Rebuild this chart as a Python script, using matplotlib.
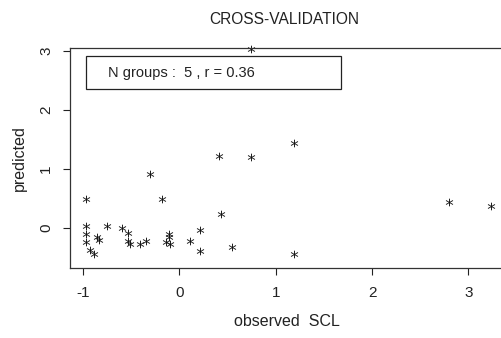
import matplotlib
matplotlib.use("Agg")
import matplotlib.pyplot as plt
from matplotlib.patches import Rectangle

plt.rcParams['font.family'] = ['Liberation Sans', 'DejaVu Sans']

# observed vs predicted
observed = [0.74, -0.97, -0.97, -0.97, -0.97, -0.93, -0.89, -0.85, -0.83, -0.75,
            -0.60, -0.53, -0.53, -0.51, -0.41, -0.35, -0.30, -0.18, -0.11, -0.11,
            -0.14, -0.10, 0.11, 0.21, 0.21, 0.41, 0.43, 0.55, 0.74, 1.19,
            1.19, 2.80, 3.23]
predicted = [3.03, 0.48, 0.03, -0.11, -0.24, -0.38, -0.45, -0.16, -0.21, 0.03,
             0.00, -0.09, -0.22, -0.28, -0.27, -0.22, 0.91, 0.48, -0.11, -0.16,
             -0.24, -0.27, -0.22, -0.04, -0.40, 1.21, 0.23, -0.33, 1.20, 1.43,
             -0.45, 0.43, 0.37]
x_ticks = [-1, 0, 1, 2, 3]
y_ticks = [0, 1, 2, 3]
n_groups = 5
r_value = 0.36

fig = plt.figure(figsize=(5.02, 3.38), dpi=100)
W, H = 502, 338
# axes box in pixels: left 70, right 503 (cut off), top 48, bottom 268
ax = fig.add_axes([70 / W, (H - 268) / H, (503 - 70) / W, (268 - 48) / H])

ax.plot(observed, predicted, linestyle='none', marker='$*$', markersize=5.5,
        color='#111111', markeredgewidth=0, clip_on=False)

ax.set_xlim(-1.135, 3.358)
ax.set_ylim(-0.684, 3.051)
ax.set_xticks(x_ticks)
ax.set_yticks(y_ticks)
ax.set_xticklabels([str(v) for v in x_ticks], fontsize=11)
ax.set_yticklabels([str(v) for v in y_ticks], fontsize=11, rotation=90, va='center')
ax.tick_params(axis='both', direction='out', length=5, width=0.8, colors='#222222')
ax.tick_params(axis='x', pad=8)
ax.tick_params(axis='y', pad=7)
for s in ax.spines.values():
    s.set_linewidth(0.9)
    s.set_color('#333333')
ax.spines['right'].set_visible(False)

ax.set_xlabel('observed  SCL', fontsize=11.5, labelpad=10, color='#222222')
ax.set_ylabel('predicted', fontsize=11.5, labelpad=9, color='#222222')

fig.text(284.7 / W, 1 - 20 / H, 'CROSS-VALIDATION', ha='center', va='center',
         fontsize=11.2, color='#222222')

# legend-like box
ax.add_patch(Rectangle((0.037, 0.814), 0.589, 0.15, transform=ax.transAxes,
                       fill=False, edgecolor='#222222', linewidth=0.9))
ax.text(0.0878, 0.885, 'N groups :  %d , r = %.2f' % (n_groups, r_value),
        transform=ax.transAxes, ha='left', va='center', fontsize=10.5, color='#222222')

fig.savefig('out.png', dpi=100)
